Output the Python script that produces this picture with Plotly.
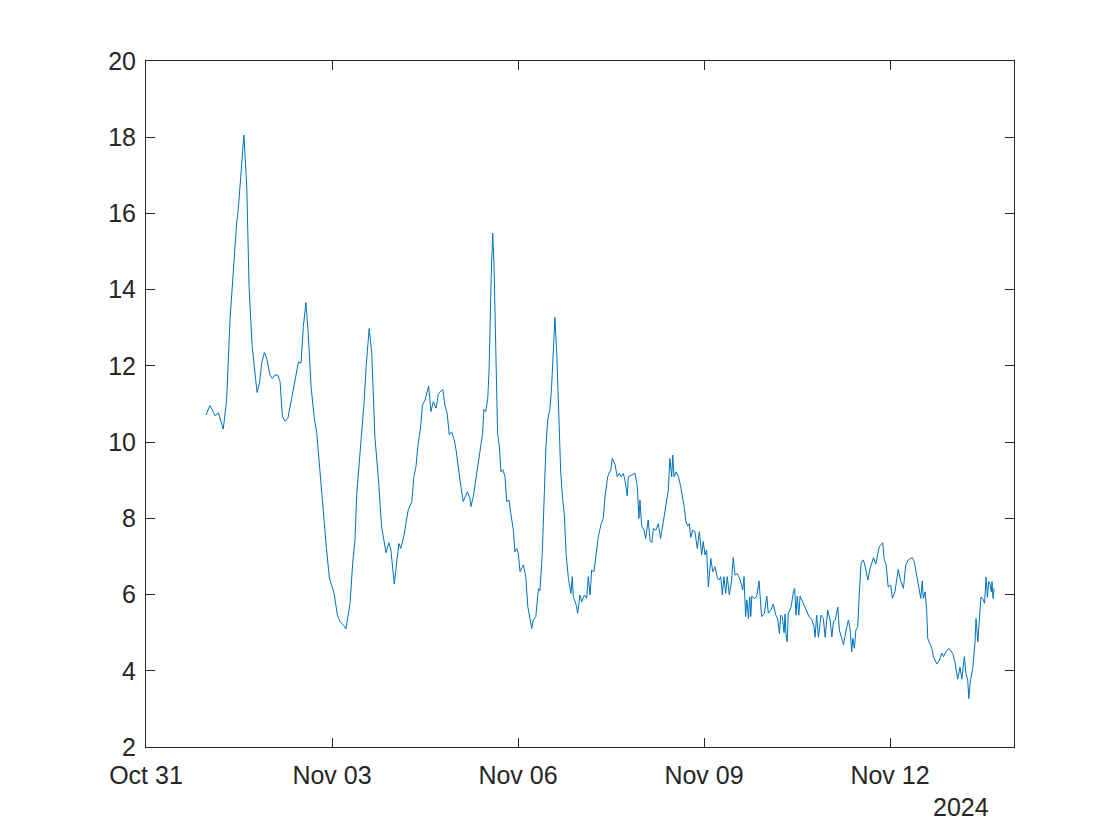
import pandas as pd
import plotly.graph_objects as go

# hours since 2024-10-31 00:00
hours = [
    23.2, 24.8, 26.7, 28.0, 29.9, 31.2, 32.5, 33.8, 35.1, 35.7, 37.0, 37.9, 39.0, 39.9, 41.1,
    43.0, 43.9, 44.8, 45.8, 46.7, 48.0, 48.9, 49.9, 51.0, 51.9, 52.8, 53.8, 54.9, 56.4, 58.1,
    59.0, 60.0, 60.9, 61.9, 62.8, 63.9, 65.1, 66.1, 67.4, 68.6, 69.9, 71.0,
    72.8, 74.1, 75.1, 76.4, 77.4, 79.0, 80.0, 80.9, 81.6, 82.6, 83.5, 84.4, 85.2, 86.4, 87.4,
    88.6, 89.9, 91.2, 92.9, 94.0, 94.8, 96.1, 97.0, 97.9, 98.6, 99.9, 100.6, 101.5, 102.9,
    103.7, 104.5, 105.2, 106.3, 107.0, 108.0, 109.4, 110.3, 111.2, 112.3, 113.2, 114.9, 115.7,
    116.6, 117.4, 118.3, 119.3, 120.0, 120.9, 121.9, 122.8, 124.4, 125.4,
    125.8, 126.7, 128.0, 129.3, 130.3, 130.8, 131.5, 132.3, 132.8, 133.6, 134.2, 134.7, 135.4,
    136.1, 136.8, 137.4, 138.1, 139.0, 139.6, 140.5, 141.2, 142.2, 142.8, 143.5, 144.1, 144.8,
    146.1, 147.0, 147.8, 148.6, 149.3, 149.9, 150.9, 151.9, 152.5, 153.4, 154.2, 154.8, 155.5,
    156.4, 157.0, 157.7, 158.3, 159.0, 159.6, 160.5, 161.2, 161.9, 162.6, 163.5, 164.5, 165.0,
    165.4, 166.5, 167.1, 168.0, 168.7, 169.7, 170.6, 171.2, 171.9, 172.5, 173.4, 174.1, 175.1,
    176.1, 177.0, 177.7, 178.7, 179.5,
    179.9, 180.5, 181.6, 182.4, 183.2, 183.9, 184.8, 185.4, 186.3, 186.7, 188.0, 189.3, 190.2,
    190.8, 191.2, 191.9, 192.8, 193.4, 194.4, 195.1, 195.8, 196.4, 197.4, 198.3, 199.2, 200.2,
    201.3, 202.2, 202.8, 203.5, 203.9, 204.4, 205.2, 206.1, 207.0, 207.8, 208.3, 209.0, 209.7,
    210.3, 210.9, 211.6, 212.5, 213.4, 214.2, 215.1, 215.7, 216.4, 217.0, 217.7, 218.6, 219.4,
    220.3, 221.2, 221.9, 222.5, 223.1, 223.7, 224.4, 225.0, 225.8, 226.7, 227.3, 228.0, 228.9,
    230.0, 231.0, 231.5, 231.8,
    232.1, 232.6, 233.2, 233.7, 234.1, 234.5, 235.5, 236.4, 237.3, 238.3, 239.4, 240.3, 240.9,
    241.9, 242.8, 243.8, 244.5, 245.2, 245.7, 246.3, 247.0, 247.4, 247.7, 248.2, 248.6, 249.7,
    250.6, 251.1, 251.6, 252.1, 252.7, 253.2, 254.4, 255.8, 256.7, 257.7, 258.6, 259.0, 259.6,
    260.3, 261.3, 262.2, 262.9, 263.9, 264.8, 265.5, 266.1, 266.8, 267.8, 268.4, 269.1, 270.0,
    271.0, 271.9, 272.5, 273.2, 273.6, 274.2, 274.8, 275.5, 276.2, 276.8, 277.7, 278.4, 279.4,
    280.3, 281.6, 282.5, 283.8,
    285.2, 285.7, 286.5, 287.3, 288.3, 288.9, 289.9, 291.2, 292.1, 293.2, 294.1, 295.1, 296.6,
    297.4, 298.3, 299.2, 299.9, 300.5, 300.9, 301.6, 302.2, 302.6, 303.5, 304.2, 304.8, 306.1,
    307.1, 308.1, 308.7, 309.7, 310.8, 312.3, 313.2, 314.2, 315.1, 315.8, 316.8, 317.4, 318.1,
    318.5, 319.0, 320.0, 320.9, 321.3, 322.0, 322.6, 323.2, 323.9, 324.6, 325.2, 325.7, 326.2,
    326.7, 327.2, 327.5, 327.9, 328.3,
]

values = [
    10.71, 10.96, 10.69, 10.77, 10.34, 11.1, 13.2, 14.5, 15.75, 16.1, 17.4, 18.06, 16.7, 14.08, 12.5,
    11.3, 11.54, 12.07, 12.35, 12.2, 11.76, 11.67, 11.76, 11.76, 11.59, 10.67, 10.55, 10.62, 11.15, 11.8,
    12.1, 12.07, 13.03, 13.66, 12.85, 11.45, 10.67, 10.23, 9.27, 8.22, 7.17, 6.43,
    6.03, 5.46, 5.29, 5.2, 5.1, 5.77, 6.82, 7.43, 8.66, 9.53, 10.49, 11.02, 11.98, 12.98, 12.33,
    10.14, 9.09, 7.78, 7.1, 7.36, 7.17, 6.28, 6.82, 7.34, 7.21, 7.56, 7.86, 8.22, 8.44,
    9.09, 9.36, 9.87, 10.4, 10.97, 11.1, 11.47, 10.8, 11.06, 10.89, 11.28, 11.38, 10.97,
    10.75, 10.19, 10.27, 10.06, 9.8, 9.31, 8.83, 8.44, 8.7, 8.52,
    8.31, 8.57, 9.18, 9.8, 10.23, 10.86, 10.8, 11.15, 11.89, 14.25, 15.48, 14.69, 12.33,
    10.23, 9.88, 9.22, 9.28, 9.09, 8.44, 8.48, 8.13, 7.69, 7.12, 7.21, 7.08, 6.6,
    6.78, 6.47, 5.68, 5.37, 5.11, 5.33, 5.42, 6.16, 6.1, 7.08, 8.66, 9.88, 10.58,
    10.89, 11.45, 12.42, 13.27, 12.33, 11.02, 9.27, 8.57, 8.13, 7.08, 6.43, 6.03, 6.47,
    5.95, 5.73, 5.51, 5.99, 5.81, 5.99, 5.9, 6.47, 5.99, 6.64, 6.6, 6.99, 7.52,
    7.83, 8.0, 8.57, 9.09, 9.22,
    9.27, 9.57, 9.4, 9.09, 9.18, 9.09, 9.18, 9.0, 8.59, 9.09, 9.14, 9.18, 8.83,
    8.0, 8.48, 7.78, 7.69, 7.47, 7.96, 7.43, 7.36, 7.73, 7.69, 7.86, 7.47, 7.91,
    8.31, 8.74, 9.57, 9.09, 9.66, 9.09, 9.22, 9.09, 8.83, 8.52, 8.31, 7.91, 7.8,
    7.86, 7.5, 7.69, 7.65, 7.21, 7.65, 7.04, 7.39, 7.04, 7.17, 6.2, 6.95, 6.6,
    6.73, 6.43, 6.38, 6.47, 5.99, 6.47, 6.03, 6.47, 5.99, 6.38, 6.97, 6.51, 6.55,
    6.38, 6.12, 6.47, 5.73,
    5.42, 5.86, 5.37, 5.94, 5.42, 5.96, 5.9, 5.94, 6.36, 5.42, 5.51, 5.96, 5.51,
    5.6, 5.75, 5.46, 5.37, 4.98, 5.46, 5.42, 5.0, 5.49, 4.98, 4.76, 5.49, 5.67,
    6.07, 6.16, 5.46, 5.96, 5.46, 5.96, 5.77, 5.55, 5.42, 5.35, 5.16, 4.88, 5.46,
    4.88, 5.46, 5.37, 4.88, 5.59, 5.33, 4.89, 5.29, 5.33, 5.67, 5.07, 4.88, 4.68,
    5.07, 5.33, 5.11, 4.5, 4.85, 4.59, 5.07, 5.16, 6.12, 6.82, 6.91, 6.73, 6.38,
    6.69, 6.97, 6.8, 7.25,
    7.36, 6.95, 6.78, 6.2, 6.25, 5.9, 6.07, 6.66, 6.38, 6.16, 6.78, 6.91, 6.97,
    6.86, 6.51, 6.16, 5.9, 6.36, 5.9, 6.07, 5.59, 4.85, 4.72, 4.59, 4.37, 4.18,
    4.28, 4.46, 4.37, 4.5, 4.59, 4.46, 4.2, 3.78, 4.09, 3.78, 4.37, 3.93, 3.76,
    3.27, 3.67, 4.06, 4.72, 5.37, 4.76, 5.33, 5.93, 5.9, 5.77, 6.45, 5.93, 6.34,
    6.28, 6.07, 6.34, 5.9, 6.16,
]

start = pd.Timestamp("2024-10-31 00:00")
times = [start + pd.Timedelta(hours=h) for h in hours]

tick_dates = ["2024-10-31", "2024-11-03", "2024-11-06", "2024-11-09", "2024-11-12"]
tick_labels = ["Oct 31", "Nov 03", "Nov 06", "Nov 09", "Nov 12"]
y_ticks = [2, 4, 6, 8, 10, 12, 14, 16, 18, 20]

FONT = "Liberation Sans, Arial, sans-serif"
AX = "#262626"
FS = 25

fig = go.Figure()
fig.add_trace(go.Scatter(x=times, y=values, mode="lines",
                         line=dict(color="#0072BD", width=1), showlegend=False))

fig.update_layout(
    width=1120, height=840,
    margin=dict(l=146, r=106, t=61, b=93),
    paper_bgcolor="white", plot_bgcolor="white",
    font=dict(family=FONT, size=FS, color=AX),
    xaxis=dict(
        type="date", range=["2024-10-31", "2024-11-14"],
        tickvals=tick_dates, ticktext=tick_labels,
        ticks="inside", ticklen=9, tickcolor=AX, tickwidth=1,
        showline=True, linecolor=AX, linewidth=1, mirror="ticks",
        showgrid=False, zeroline=False,
        tickfont=dict(family=FONT, size=FS, color=AX),
        ticklabelstandoff=6,
    ),
    yaxis=dict(
        range=[2, 20], tickvals=y_ticks,
        ticks="inside", ticklen=9, tickcolor=AX, tickwidth=1,
        showline=True, linecolor=AX, linewidth=1, mirror="ticks",
        showgrid=False, zeroline=False,
        tickfont=dict(family=FONT, size=FS, color=AX),
        ticklabelstandoff=4,
    ),
    annotations=[dict(
        text="2024", xref="paper", yref="paper", x=0.939, y=-0.088,
        xanchor="center", yanchor="middle", showarrow=False,
        font=dict(family=FONT, size=FS, color=AX),
    )],
)

fig.write_html("out.html")
